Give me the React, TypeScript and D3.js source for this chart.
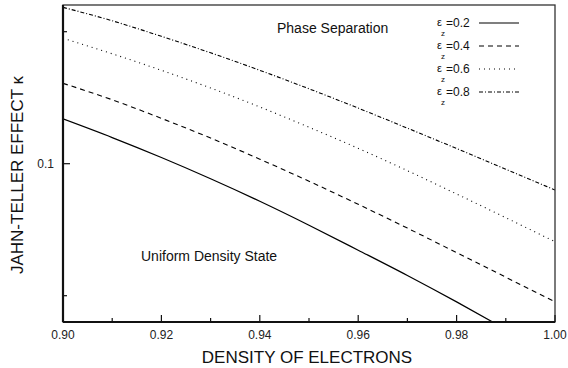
// Jahn-Teller effect κ vs electron density, one curve per ε_z.
// Log y axis, black-ink line styles, plain boxed frame like the original print.
import * as d3 from "d3";

const density = [0.9, 0.91, 0.92, 0.93, 0.94, 0.95, 0.96, 0.97, 0.98, 0.99, 1.0];

// κ, one array per ε_z
const kappa02 = [0.1265, 0.1147, 0.1033, 0.0924, 0.0821, 0.0724, 0.0635, 0.0556, 0.0484, 0.0419];
const kappa04 = [0.1525, 0.1399, 0.1269, 0.1144, 0.1024, 0.0912, 0.0808, 0.0713, 0.0627, 0.0551, 0.0484];
const kappa06 = [0.1932, 0.1781, 0.1633, 0.1488, 0.1347, 0.1211, 0.1084, 0.0964, 0.0853, 0.0753, 0.0664];
const kappa08 = [0.2273, 0.2118, 0.1952, 0.179, 0.1633, 0.1482, 0.1339, 0.1205, 0.1083, 0.0971, 0.0871];

const legendLabels = ["0.2", "0.4", "0.6", "0.8"];
const dashes = [null, "5,4", "1,4", "4,2,1,2"];

const xMajor = [0.9, 0.92, 0.94, 0.96, 0.98, 1.0];
const xMinor = [0.91, 0.93, 0.95, 0.97, 0.99];
const yMajor = [0.1];
const yMinor = [0.05, 0.2];

const W = 568;
const H = 368;
const margin = { top: 5, right: 13, bottom: 46, left: 63 };
const FONT = "'Liberation Sans', Arial, Helvetica, sans-serif";

export default function App() {
  const innerW = W - margin.left - margin.right;
  const innerH = H - margin.top - margin.bottom;

  const x = d3.scaleLinear().domain([0.9, 1.0]).range([0, innerW]);
  const y = d3.scaleLog().domain([0.04355, 0.2301]).range([innerH, 0]);

  const series = [kappa02, kappa04, kappa06, kappa08];
  const line = d3
    .line<number>()
    .x((_d, i) => x(density[i]))
    .y((d) => y(d))
    .curve(d3.curveMonotoneX);

  const fmtX = d3.format(".2f");

  return (
    <svg
      width={W}
      height={H}
      style={{ position: "absolute", left: 0, top: 0, background: "#fff" }}
      fontFamily={FONT}
    >
      <defs>
        <clipPath id="plot-clip">
          <rect x={0} y={0} width={innerW} height={innerH} />
        </clipPath>
      </defs>
      <g transform={`translate(${margin.left},${margin.top})`}>
        {/* curves */}
        <g clipPath="url(#plot-clip)">
          {series.map((s, i) => (
            <path
              key={i}
              d={line(s) ?? ""}
              fill="none"
              stroke="#000"
              strokeWidth={i === 0 ? 1.2 : 1.1}
              strokeDasharray={dashes[i] ?? undefined}
            />
          ))}
        </g>

        {/* frame */}
        <rect x={0} y={0} width={innerW} height={innerH} fill="none" stroke="#333" strokeWidth={1.3} />
        <line x1={0} x2={innerW} y1={innerH} y2={innerH} stroke="#111" strokeWidth={2.2} />
        <line x1={0} x2={0} y1={0} y2={innerH} stroke="#111" strokeWidth={2.2} />

        {/* x ticks (inward) */}
        {xMajor.map((t) => (
          <g key={`xM${t}`} transform={`translate(${x(t)},${innerH})`}>
            <line y1={0} y2={-7} stroke="#111" strokeWidth={1.2} />
            <text y={17} textAnchor="middle" fontSize={12} fill="#222">
              {fmtX(t)}
            </text>
          </g>
        ))}
        {xMinor.map((t) => (
          <line key={`xm${t}`} x1={x(t)} x2={x(t)} y1={innerH} y2={innerH - 4} stroke="#111" strokeWidth={1.2} />
        ))}

        {/* y ticks (inward) */}
        {yMajor.map((t) => (
          <g key={`yM${t}`} transform={`translate(0,${y(t)})`}>
            <line x1={0} x2={7} stroke="#111" strokeWidth={1.2} />
            <text x={-9} dy="0.35em" textAnchor="end" fontSize={12} fill="#222">
              {t}
            </text>
          </g>
        ))}
        {yMinor.map((t) => (
          <line key={`ym${t}`} x1={0} x2={4} y1={y(t)} y2={y(t)} stroke="#111" strokeWidth={1.2} />
        ))}

        {/* region labels */}
        <text x={214} y={28} fontSize={14} fill="#111">
          Phase Separation
        </text>
        <text x={78} y={256} fontSize={14} fill="#111">
          Uniform Density State
        </text>

        {/* legend: ε with z subscript tucked below, then value and line sample */}
        {legendLabels.map((lab, i) => {
          const cy = 18 + i * 23;
          return (
            <g key={lab} transform={`translate(374,${cy})`}>
              <text x={0} y={3} fontSize={11} fill="#111">
                ε
              </text>
              <text x={4} y={13} fontSize={8} fill="#111">
                z
              </text>
              <text x={9} y={4} fontSize={12} fill="#111">
                ={lab}
              </text>
              <line
                x1={42}
                x2={82}
                y1={0}
                y2={0}
                stroke="#000"
                strokeWidth={1.1}
                strokeDasharray={dashes[i] ?? undefined}
              />
            </g>
          );
        })}
      </g>

      {/* axis titles */}
      <text x={307} y={363} textAnchor="middle" fontSize={17} fill="#111">
        DENSITY OF ELECTRONS
      </text>
      <text
        transform="translate(22.5,175) rotate(-90)"
        textAnchor="middle"
        fontSize={17}
        fill="#111"
      >
        JAHN-TELLER EFFECT κ
      </text>
    </svg>
  );
}
